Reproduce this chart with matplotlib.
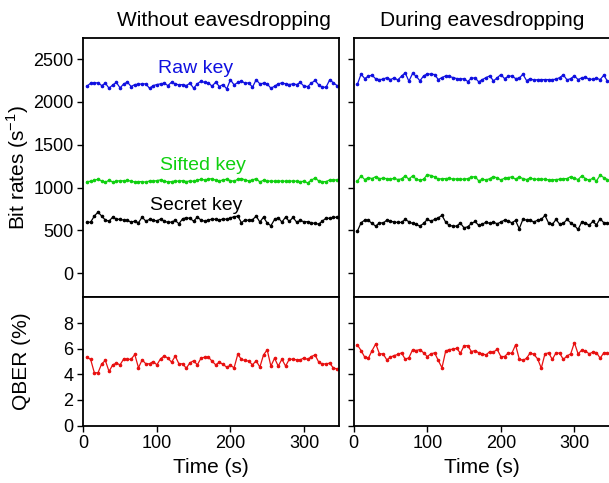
import numpy as np
import matplotlib
matplotlib.use("Agg")
import matplotlib.pyplot as plt

plt.rcParams['font.family'] = ['Liberation Sans', 'DejaVu Sans']
plt.rcParams['mathtext.fontset'] = 'custom'
plt.rcParams['mathtext.rm'] = 'Liberation Sans'

time_s = np.arange(5, 350, 5)  # 69 samples

raw_without = [2183, 2218, 2222, 2222, 2190, 2218, 2159, 2198, 2226, 2163,
               2210, 2230, 2179, 2202, 2206, 2210, 2210, 2159, 2190, 2202,
               2210, 2218, 2190, 2230, 2210, 2198, 2202, 2190, 2218, 2159,
               2210, 2242, 2226, 2222, 2183, 2230, 2179, 2202, 2151, 2258,
               2198, 2226, 2242, 2218, 2222, 2171, 2258, 2210, 2218, 2210,
               2159, 2183, 2210, 2222, 2210, 2202, 2210, 2202, 2226, 2183,
               2179, 2218, 2250, 2198, 2171, 2171, 2258, 2222, 2190]
sifted_without = [1070, 1074, 1086, 1098, 1078, 1063, 1086, 1066, 1074, 1082,
                  1078, 1086, 1074, 1066, 1070, 1070, 1063, 1078, 1074, 1082,
                  1090, 1078, 1066, 1070, 1078, 1074, 1082, 1070, 1078, 1074,
                  1086, 1098, 1090, 1098, 1105, 1086, 1078, 1090, 1098, 1082,
                  1074, 1098, 1105, 1090, 1078, 1090, 1105, 1066, 1086, 1074,
                  1078, 1074, 1074, 1078, 1074, 1074, 1078, 1074, 1070, 1074,
                  1055, 1086, 1113, 1078, 1070, 1070, 1090, 1090, 1090]
secret_without = [594, 598, 668, 715, 668, 621, 609, 656, 633, 629,
                  621, 617, 598, 609, 590, 656, 609, 629, 617, 613,
                  633, 609, 594, 598, 617, 578, 637, 648, 641, 609,
                  656, 621, 609, 621, 633, 629, 617, 637, 629, 648,
                  660, 668, 590, 625, 617, 625, 668, 598, 656, 586,
                  555, 629, 648, 598, 656, 605, 652, 598, 617, 602,
                  602, 590, 582, 574, 609, 645, 641, 652, 656]
qber_without = [5.35, 5.17, 4.13, 4.13, 4.83, 5.09, 4.23, 4.75, 4.88, 4.75,
                5.22, 5.17, 5.19, 5.56, 4.52, 5.14, 4.83, 4.83, 5.01, 4.75,
                5.22, 5.45, 5.27, 4.96, 5.43, 4.83, 4.83, 4.49, 4.91, 5.07,
                4.75, 5.27, 5.35, 5.35, 5.04, 4.75, 4.96, 4.78, 4.57, 4.70,
                4.52, 5.58, 5.17, 5.09, 5.04, 4.75, 5.07, 4.57, 5.53, 5.92,
                4.65, 5.27, 4.65, 5.19, 4.65, 5.19, 5.19, 5.14, 5.14, 5.30,
                5.17, 5.40, 5.53, 4.96, 4.81, 4.83, 4.88, 4.49, 4.44]

raw_during = [2205, 2323, 2272, 2300, 2311, 2268, 2260, 2264, 2284, 2260,
              2280, 2256, 2300, 2339, 2241, 2331, 2300, 2245, 2303, 2327,
              2323, 2319, 2260, 2284, 2303, 2296, 2284, 2272, 2264, 2272,
              2237, 2276, 2280, 2233, 2260, 2284, 2303, 2245, 2280, 2319,
              2272, 2296, 2303, 2272, 2276, 2323, 2248, 2272, 2252, 2260,
              2260, 2260, 2260, 2260, 2264, 2284, 2315, 2256, 2272, 2303,
              2260, 2280, 2288, 2264, 2264, 2276, 2260, 2311, 2241]
sifted_during = [1074, 1137, 1094, 1117, 1105, 1129, 1105, 1109, 1105, 1098,
                 1109, 1094, 1102, 1137, 1098, 1137, 1098, 1086, 1098, 1152,
                 1141, 1125, 1098, 1105, 1105, 1109, 1098, 1102, 1098, 1098,
                 1105, 1121, 1129, 1078, 1098, 1090, 1105, 1129, 1113, 1090,
                 1109, 1117, 1125, 1098, 1125, 1105, 1094, 1113, 1098, 1098,
                 1098, 1098, 1090, 1090, 1094, 1098, 1105, 1105, 1129, 1109,
                 1094, 1137, 1105, 1086, 1109, 1078, 1145, 1117, 1094]
secret_during = [492, 590, 621, 617, 582, 551, 590, 586, 621, 609,
                 598, 594, 594, 629, 602, 582, 570, 551, 582, 629,
                 609, 629, 648, 676, 598, 559, 551, 551, 586, 531,
                 543, 582, 605, 559, 574, 598, 582, 598, 578, 598,
                 621, 609, 590, 617, 520, 629, 621, 621, 598, 621,
                 629, 676, 586, 570, 629, 574, 582, 629, 590, 559,
                 512, 598, 590, 559, 605, 566, 637, 590, 582]
qber_during = [6.31, 5.87, 5.35, 5.27, 5.87, 6.39, 5.61, 5.61, 5.14, 5.35,
               5.48, 5.56, 5.69, 5.19, 5.30, 5.92, 5.87, 5.95, 5.69, 5.40,
               5.61, 5.69, 5.09, 4.52, 5.82, 5.95, 5.97, 6.05, 5.66, 6.23,
               6.26, 5.79, 5.87, 5.69, 5.61, 5.53, 5.79, 5.74, 5.97, 5.40,
               5.40, 5.66, 5.66, 6.31, 5.22, 5.09, 5.27, 5.69, 5.56, 5.22,
               4.49, 5.61, 5.69, 5.17, 5.69, 5.66, 5.17, 5.45, 5.61, 6.49,
               5.61, 5.90, 5.84, 5.61, 5.74, 5.71, 5.27, 5.69, 5.66]

titles = ["Without eavesdropping", "During eavesdropping"]
rate_ticks = [0, 500, 1000, 1500, 2000, 2500]
qber_ticks = [0, 2, 4, 6, 8]
time_ticks = [0, 100, 200, 300]

BLUE = '#1010e0'
GREEN = '#10d010'
RED = '#e81010'
BLACK = '#000000'

W, H = 609, 483
fig = plt.figure(figsize=(W / 100, H / 100), dpi=100)

def frac(x0, y0, x1, y1):
    return [x0 / W, 1 - y1 / H, (x1 - x0) / W, (y1 - y0) / H]

lefts = [83.3, 353.7]
width = 256
y_top, y_mid, y_bot = 38, 296.5, 425.5
title_x = [0.55, 0.5]

series = [
    (raw_without, sifted_without, secret_without, qber_without),
    (raw_during, sifted_during, secret_during, qber_during),
]

tick_fs = 13
label_fs = 15

for col, x0 in enumerate(lefts):
    ax_r = fig.add_axes(frac(x0, y_top, x0 + width, y_mid))
    ax_q = fig.add_axes(frac(x0, y_mid, x0 + width, y_bot))
    raw, sifted, secret, qber = series[col]
    for vals, c in [(raw, BLUE), (sifted, GREEN), (secret, BLACK)]:
        ax_r.plot(time_s, vals, color=c, lw=0.9, marker='o', ms=1.6, mec=c, mfc=c)
    ax_q.plot(time_s, qber, color=RED, lw=0.9, marker='o', ms=1.6, mec=RED, mfc=RED)

    ax_r.set_xlim(0, 348)
    ax_q.set_xlim(0, 348)
    ax_r.set_ylim(-270, 2745)
    ax_q.set_ylim(0, 10.1)
    ax_r.set_yticks(rate_ticks)
    ax_q.set_yticks(qber_ticks)
    ax_r.set_xticks([])
    ax_q.set_xticks(time_ticks)
    for a in (ax_r, ax_q):
        for sp in a.spines.values():
            sp.set_linewidth(1.3)
        a.tick_params(direction='out', length=4, width=1, labelsize=tick_fs, pad=3)
    ax_r.set_title(titles[col], fontsize=label_fs, pad=9, x=title_x[col])
    ax_q.set_xlabel("Time (s)", fontsize=label_fs, labelpad=4)
    if col == 0:
        ax_r.set_ylabel("Bit rates (s$^{\\mathregular{-1}}$)", fontsize=label_fs)
        ax_q.set_ylabel("QBER (%)", fontsize=label_fs)
        ax_r.yaxis.set_label_coords(-0.205, 0.5)
        ax_q.yaxis.set_label_coords(-0.205, 0.5)
        ax_r.text(153, 2385, "Raw key", color=BLUE, fontsize=14, ha='center', va='center')
        ax_r.text(162, 1255, "Sifted key", color=GREEN, fontsize=14, ha='center', va='center')
        ax_r.text(153, 790, "Secret key", color=BLACK, fontsize=14, ha='center', va='center')
    else:
        ax_r.set_yticklabels([])
        ax_q.set_yticklabels([])

fig.savefig("out.png", dpi=100)
